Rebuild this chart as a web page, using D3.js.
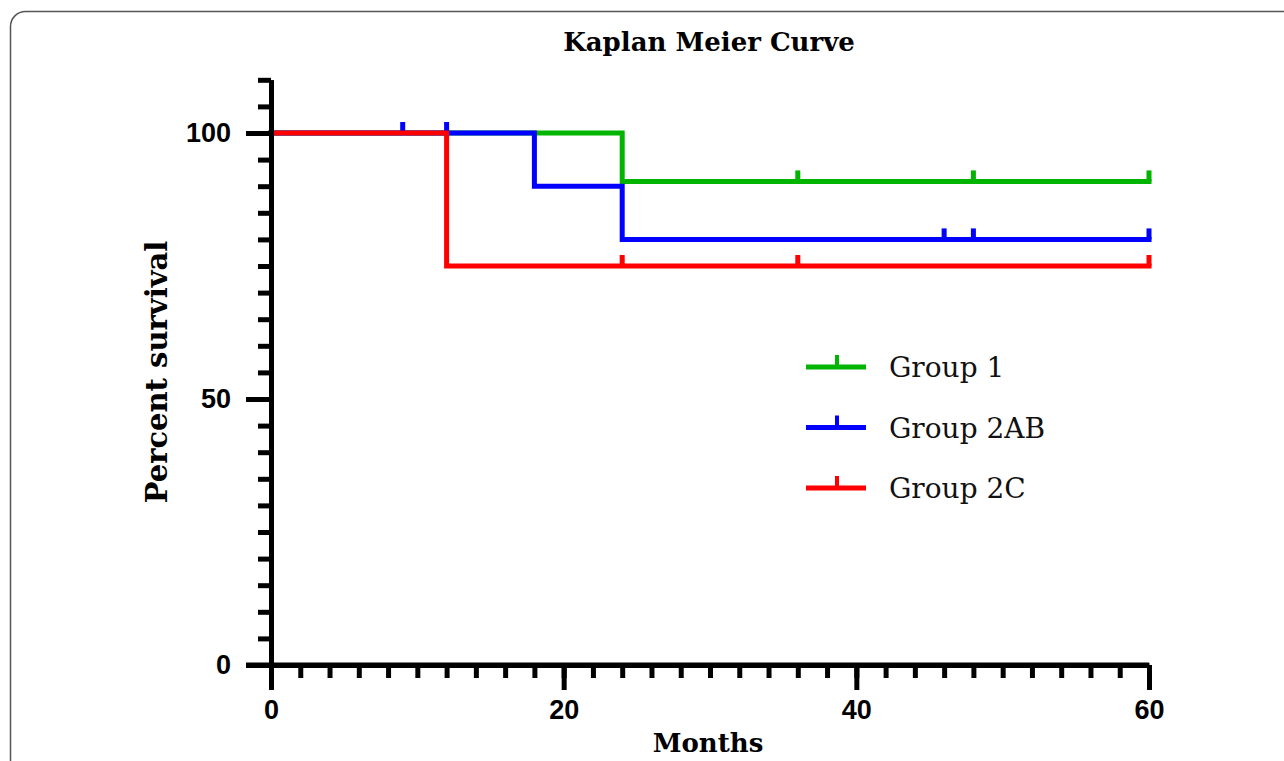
<!DOCTYPE html>
<html>
<head>
<meta charset="utf-8">
<script src="https://cdn.jsdelivr.net/npm/d3@7"></script>
<style>
  html, body { margin: 0; padding: 0; background: #fff; overflow: hidden; }
  svg { display: block; }
</style>
</head>
<body>
<svg id="chart" width="1284" height="761"></svg>
<script>
// survival data
var groups = ['Group 1', 'Group 2AB', 'Group 2C'];
var colors = ['#00b400', '#0000ff', '#ff0000'];

var group1Times = [0, 24, 60];
var group1Surv = [100, 90.9, 90.9];
var group1Censor = [36, 48, 60];

var group2abTimes = [0, 18, 24, 60];
var group2abSurv = [100, 90, 80, 80];
var group2abCensor = [9, 12, 46, 48, 60];

var group2cTimes = [0, 12, 60];
var group2cSurv = [100, 75, 75];
var group2cCensor = [24, 36, 60];

var xMajorTicks = [0, 20, 40, 60];
var yMajorTicks = [0, 50, 100];

var series = [
  { name: groups[0], times: group1Times, surv: group1Surv, censor: group1Censor, color: colors[0] },
  { name: groups[1], times: group2abTimes, surv: group2abSurv, censor: group2abCensor, color: colors[1] },
  { name: groups[2], times: group2cTimes, surv: group2cSurv, censor: group2cCensor, color: colors[2] }
];

var svg = d3.select('#chart');
var serif = '"DejaVu Serif", serif';
var sans = '"Liberation Sans", Arial, sans-serif';

// panel frame (runs off the right and bottom of the page)
svg.append('rect')
  .attr('x', 10.5).attr('y', 11.5)
  .attr('width', 1300).attr('height', 800)
  .attr('rx', 15).attr('ry', 15)
  .attr('fill', 'none').attr('stroke', '#555').attr('stroke-width', 1.5);

var x = d3.scaleLinear().domain([0, 60]).range([271, 1149]);
var y = d3.scaleLinear().domain([0, 110]).range([665, 79.8]);

// survival value at time t for a step series
function survAt(s, t) {
  var v = s.surv[0];
  for (var i = 0; i < s.times.length; i++) {
    if (s.times[i] <= t) v = s.surv[i];
  }
  return v;
}

var stepLine = d3.line()
  .x(function(d) { return x(d[0]); })
  .y(function(d) { return y(d[1]); })
  .curve(d3.curveStepAfter);

var plot = svg.append('g');

series.forEach(function(s) {
  var pts = s.times.map(function(t, i) { return [t, s.surv[i]]; });
  plot.append('path')
    .attr('d', stepLine(pts))
    .attr('fill', 'none')
    .attr('stroke', s.color)
    .attr('stroke-width', 5)
    .attr('stroke-linejoin', 'miter')
    .attr('stroke-linecap', 'square');

  plot.selectAll(null)
    .data(s.censor)
    .enter().append('line')
    .attr('x1', function(d) { return x(d); })
    .attr('x2', function(d) { return x(d); })
    .attr('y1', function(d) { return y(survAt(s, d)); })
    .attr('y2', function(d) { return y(survAt(s, d)) - 11; })
    .attr('stroke', s.color)
    .attr('stroke-width', 5);
});

// axes
function styleAxis(g) {
  g.select('.domain').attr('stroke', '#000').attr('stroke-width', 5);
  g.selectAll('.tick line').attr('stroke', '#000').attr('stroke-width', 5);
  g.selectAll('.tick text')
    .attr('fill', '#000')
    .style('font-family', sans)
    .style('font-weight', 'bold')
    .style('font-size', '27px');
}

var yMinor = svg.append('g')
  .attr('transform', 'translate(271,0)')
  .call(d3.axisLeft(y).tickValues(d3.range(0, 111, 5)).tickSize(13).tickSizeOuter(0).tickFormat(''));
styleAxis(yMinor);

var yMajor = svg.append('g')
  .attr('transform', 'translate(271,0)')
  .call(d3.axisLeft(y).tickValues(yMajorTicks).tickSize(25).tickSizeOuter(0).tickPadding(15));
styleAxis(yMajor);

var xMinor = svg.append('g')
  .attr('transform', 'translate(0,665)')
  .call(d3.axisBottom(x).tickValues(d3.range(0, 61, 2)).tickSize(13).tickSizeOuter(0).tickFormat(''));
styleAxis(xMinor);

var xMajor = svg.append('g')
  .attr('transform', 'translate(0,665)')
  .call(d3.axisBottom(x).tickValues(xMajorTicks).tickSize(25).tickSizeOuter(0).tickPadding(10));
styleAxis(xMajor);
xMajor.select('.domain').attr('d', 'M' + (271 - 25) + ',0H' + 1149);

// titles
svg.append('text')
  .attr('x', 709).attr('y', 51)
  .attr('text-anchor', 'middle')
  .style('font-family', serif).style('font-weight', 'bold').style('font-size', '26px')
  .text('Kaplan Meier Curve');

svg.append('text')
  .attr('x', 708).attr('y', 752)
  .attr('text-anchor', 'middle')
  .style('font-family', serif).style('font-weight', 'bold').style('font-size', '26px')
  .text('Months');

svg.append('text')
  .attr('transform', 'translate(167,372) rotate(-90)')
  .attr('text-anchor', 'middle')
  .style('font-family', serif).style('font-weight', 'bold').style('font-size', '29px')
  .text('Percent survival');

// legend
var legend = svg.append('g');
series.forEach(function(s, i) {
  var ly = 367 + i * 60.5;
  legend.append('line')
    .attr('x1', 806).attr('x2', 866).attr('y1', ly).attr('y2', ly)
    .attr('stroke', s.color).attr('stroke-width', 5);
  legend.append('line')
    .attr('x1', 837).attr('x2', 837).attr('y1', ly).attr('y2', ly - 12)
    .attr('stroke', s.color).attr('stroke-width', 4);
  legend.append('text')
    .attr('x', 889).attr('y', ly + 10)
    .style('font-family', serif).style('font-size', '28px')
    .attr('fill', '#111')
    .text(s.name);
});
</script>
</body>
</html>
